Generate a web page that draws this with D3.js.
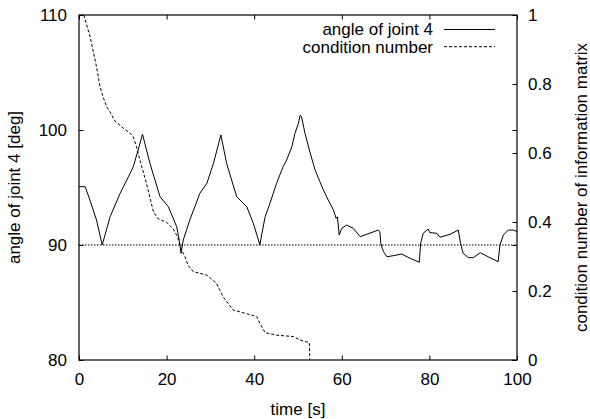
<!DOCTYPE html>
<html>
<head>
<meta charset="utf-8">
<script src="https://cdn.jsdelivr.net/npm/d3@7"></script>
<style>
  html, body { margin: 0; padding: 0; background: #fff; }
  svg { display: block; }
  text { font-family: "Liberation Sans", Arial, Helvetica, sans-serif; fill: #000; }
</style>
</head>
<body>
<svg id="chart" width="590" height="419"></svg>
<script>
// ---- data ----
const angleTime = [0, 1.4, 2.5, 4.0, 5.3, 7.1, 9.4, 11.3, 12.4, 13.5, 14.5,
  16.2, 18.5, 20.4, 22.3, 22.9, 23.3, 23.8, 25.3, 27.6, 29.2, 30.7, 32.4,
  33.7, 36.0, 38.3, 39.8, 41.3, 41.7, 42.5, 43.6, 45.1, 46.6, 47.4, 48.6, 49.3, 50.1, 50.5,
  50.8, 51.6, 52.7, 53.9, 55.0, 55.8, 56.9, 58.1, 58.7, 59.0, 59.4, 60.0, 61.1, 62.6, 64.2,
  68.3, 68.7, 68.9, 69.5, 70.3, 71.8, 73.7, 75.6, 77.7, 78.0, 78.6, 79.7, 80.1, 81.7, 82.4,
  84.7, 86.6, 87.1, 87.7, 88.9, 90.0, 91.6, 93.8, 95.7, 96.1, 96.9, 98.0, 99.2, 100];
const angleValues = [95.07, 95.07, 93.91, 92.17, 90.0, 92.46, 94.50, 95.94, 96.81, 98.26, 99.63,
  97.10, 94.20, 93.33, 91.59, 90.4, 89.28, 90.43, 92.17, 94.50, 95.37, 97.10, 99.57,
  97.10, 94.20, 93.33, 91.89, 90.0, 90.87, 92.46, 93.62, 95.36, 96.81, 97.39, 98.55, 99.71, 100.58, 101.30,
  101.16, 99.71, 98.11, 96.52, 95.51, 94.78, 93.91, 93.04, 92.32, 92.46, 90.87, 91.45, 91.74, 91.45, 90.72,
  91.30, 91.16, 90.15, 89.42, 88.98, 89.07, 89.22, 88.84, 88.50, 90.15, 91.02, 91.39, 91.07, 91.02, 90.67,
  90.93, 91.30, 90.15, 89.28, 88.90, 88.90, 89.33, 88.90, 88.55, 90.0, 90.87, 91.30, 91.30, 91.16];

const condTime = [1.1, 2.5, 4.0, 4.8, 5.5, 6.3, 7.1, 8.2, 10.1, 11.6, 12.4, 13.2, 13.9, 15.5,
  17.0, 18.1, 20.0, 21.5, 22.5, 23.4, 24.2, 24.9, 26.1, 29.2, 31.4, 32.9, 35.2, 37.5,
  40.6, 41.3, 42.5, 45.1, 48.9, 50.5, 52.6, 52.7];
const condValues = [1.0, 0.939, 0.850, 0.792, 0.763, 0.734, 0.719, 0.693, 0.672, 0.658, 0.647, 0.614, 0.580, 0.507,
  0.429, 0.409, 0.399, 0.380, 0.357, 0.319, 0.299, 0.275, 0.256, 0.246, 0.222, 0.183, 0.145, 0.137,
  0.126, 0.106, 0.079, 0.072, 0.068, 0.058, 0.050, 0.0];

const refAngle = 90;
const xTicks = [0, 20, 40, 60, 80, 100];
const yTicks = [80, 90, 100, 110];
const y2Ticks = [0, 0.2, 0.4, 0.6, 0.8, 1];
const xLabel = "time [s]";
const yLabel = "angle of joint 4 [deg]";
const y2Label = "condition number of information matrix";
const seriesNames = ["angle of joint 4", "condition number"];

// ---- layout ----
const L = 79, R = 517, T = 15, B = 360;
const FS = 17;
const svg = d3.select("#chart");

const x = d3.scaleLinear().domain([0, 100]).range([L, R]);
const y = d3.scaleLinear().domain([80, 110]).range([B, T]);
const y2 = d3.scaleLinear().domain([0, 1]).range([B, T]);

const tick = 4.5;
function styleAxis(g) {
  g.select(".domain").remove();
  g.selectAll("line").attr("stroke", "#000").attr("stroke-width", 1);
  g.selectAll("text").attr("font-size", FS).attr("font-family", null).attr("fill", "#000");
}

svg.append("g").attr("transform", `translate(0,${B})`)
  .call(d3.axisBottom(x).tickValues(xTicks).tickSizeInner(-tick).tickSizeOuter(0).tickPadding(13).tickFormat(d3.format("d")))
  .call(styleAxis);
svg.append("g").attr("transform", `translate(0,${T})`)
  .call(d3.axisTop(x).tickValues(xTicks).tickSizeInner(-tick).tickSizeOuter(0).tickFormat(""))
  .call(styleAxis);
svg.append("g").attr("transform", `translate(${L},0)`)
  .call(d3.axisLeft(y).tickValues(yTicks).tickSizeInner(-tick).tickSizeOuter(0).tickPadding(12).tickFormat(d3.format("d")))
  .call(styleAxis);
svg.append("g").attr("transform", `translate(${R},0)`)
  .call(d3.axisRight(y).tickValues(yTicks).tickSizeInner(-tick).tickSizeOuter(0).tickFormat(""))
  .call(styleAxis);
svg.append("g").attr("transform", `translate(${R},0)`)
  .call(d3.axisRight(y2).tickValues(y2Ticks).tickSizeInner(-tick).tickSizeOuter(0).tickPadding(11).tickFormat(d => d === 0 || d === 1 ? String(d) : d.toFixed(1)))
  .call(styleAxis);

// reference line
svg.append("line")
  .attr("x1", x(0)).attr("x2", x(100))
  .attr("y1", y(refAngle)).attr("y2", y(refAngle))
  .attr("stroke", "#000").attr("stroke-width", 1).attr("stroke-dasharray", "1.5,1.5");

// series
const angleData = angleTime.map((t, i) => [t, angleValues[i]]);
const condData = condTime.map((t, i) => [t, condValues[i]]);
svg.append("path").datum(angleData)
  .attr("fill", "none").attr("stroke", "#000").attr("stroke-width", 1)
  .attr("d", d3.line().x(d => x(d[0])).y(d => y(d[1])));
svg.append("path").datum(condData)
  .attr("fill", "none").attr("stroke", "#000").attr("stroke-width", 1).attr("stroke-dasharray", "3,2")
  .attr("d", d3.line().x(d => x(d[0])).y(d => y2(d[1])));

// border
svg.append("rect").attr("x", L).attr("y", T).attr("width", R - L).attr("height", B - T)
  .attr("fill", "none").attr("stroke", "#000").attr("stroke-width", 1.2);

// axis labels
svg.append("text").attr("x", (L + R) / 2).attr("y", 415).attr("text-anchor", "middle").attr("font-size", FS).text(xLabel);
svg.append("text").attr("transform", `translate(20,${(T + B) / 2}) rotate(-90)`).attr("text-anchor", "middle").attr("font-size", FS).text(yLabel);
svg.append("text").attr("transform", `translate(587,${(T + B) / 2}) rotate(-90)`).attr("text-anchor", "middle").attr("font-size", FS).text(y2Label);

// legend
const legRows = [29.5, 46.7];
const dashes = [null, "3,2"];
seriesNames.forEach((name, i) => {
  svg.append("text").attr("x", 433).attr("y", legRows[i]).attr("dy", "0.35em")
    .attr("text-anchor", "end").attr("font-size", FS).text(name);
  svg.append("line").attr("x1", 444).attr("x2", 495).attr("y1", legRows[i]).attr("y2", legRows[i])
    .attr("stroke", "#000").attr("stroke-width", 1).attr("stroke-dasharray", dashes[i]);
});
</script>
</body>
</html>
